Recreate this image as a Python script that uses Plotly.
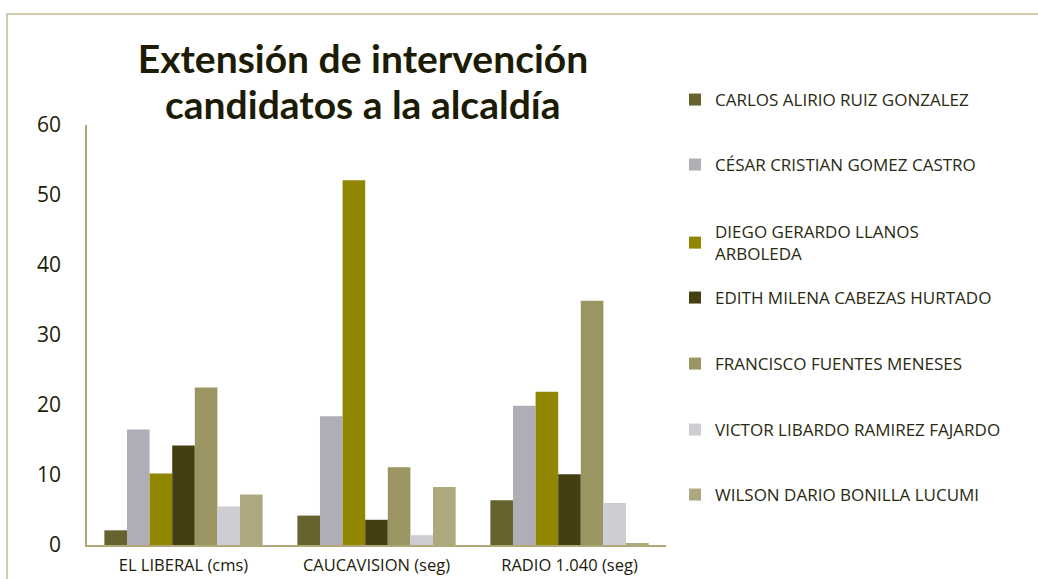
import plotly.graph_objects as go

categories = ["EL LIBERAL (cms)", "CAUCAVISION (seg)", "RADIO 1.040 (seg)"]
candidates = [
    "CARLOS ALIRIO RUIZ GONZALEZ",
    "CÉSAR CRISTIAN GOMEZ CASTRO",
    "DIEGO GERARDO LLANOS<br>ARBOLEDA",
    "EDITH MILENA CABEZAS HURTADO",
    "FRANCISCO FUENTES MENESES",
    "VICTOR LIBARDO RAMIREZ FAJARDO",
    "WILSON DARIO BONILLA LUCUMI",
]
carlos = [2.1, 4.2, 6.4]
cesar = [16.5, 18.4, 19.9]
diego = [10.2, 52.1, 21.9]
edith = [14.2, 3.6, 10.1]
francisco = [22.5, 11.1, 34.9]
victor = [5.5, 1.4, 6.0]
wilson = [7.2, 8.3, 0.25]
series = [carlos, cesar, diego, edith, francisco, victor, wilson]
colors = ["#67632e", "#afaeb6", "#918600", "#433f13", "#9b9563", "#cdcdd4", "#aea87f"]
legend_y_px = [100, 165, 232, 298, 364, 430, 495]
title_lines = ["Extensión de intervención", "candidatos a la alcaldía"]

W, H = 1038, 579
L, R, T, B = 87, 372, 125, 34
pw, ph = W - L - R, H - T - B


def px_x(px):
    return (px - L) / pw


def px_y(py):
    return (H - B - py) / ph


fig = go.Figure()
for i, (name, vals, col) in enumerate(zip(candidates, series, colors)):
    lg = "legend" if i == 0 else f"legend{i+1}"
    fig.add_trace(go.Bar(
        x=categories, y=vals, name=name, marker_color=col,
        marker_line_width=0, legend=lg, showlegend=True,
    ))

leg_font = dict(family="Open Sans", size=17, color="#2a2a12")
layout_legends = {}
for i, py in enumerate(legend_y_px):
    key = "legend" if i == 0 else f"legend{i+1}"
    layout_legends[key] = dict(
        x=px_x(675), y=px_y(py),
        xanchor="left", yanchor="middle",
        font=leg_font, bgcolor="rgba(0,0,0,0)", itemwidth=30,
        tracegroupgap=0, visible=True,
    )
layout_legends["legend3"]["yanchor"] = "top"
layout_legends["legend3"]["y"] = px_y(legend_y_px[2] - 18)

title_font = dict(family="Lato", size=39, color="#1c1c05", weight="bold")

fig.update_layout(
    width=W, height=H,
    margin=dict(l=L, r=R, t=T, b=B, autoexpand=False),
    paper_bgcolor="white", plot_bgcolor="white",
    showlegend=True,
    barmode="group", bargap=0.18, bargroupgap=0,
    title=dict(
        text=title_lines[0],
        x=363 / W, xanchor="center", xref="container",
        y=1 - 59 / H, yanchor="middle", yref="container",
        font=title_font,
    ),
    annotations=[dict(
        text=title_lines[1], xref="paper", yref="paper",
        x=px_x(363), y=px_y(104), xanchor="center", yanchor="middle",
        showarrow=False, font=title_font,
    )],
    xaxis=dict(
        showgrid=False, showline=True, linecolor="#b0a878", linewidth=1.5,
        ticks="", tickfont=dict(family="Open Sans", size=16.5, color="#1c1c08"),
        ticklabelstandoff=4,
    ),
    yaxis=dict(
        range=[0, 60], dtick=10, showgrid=False, zeroline=False,
        showline=True, linecolor="#b0a878", linewidth=1.5,
        ticks="", tickfont=dict(family="Open Sans", size=21, color="#1c1c08"),
        ticklabelstandoff=20,
    ),
    shapes=[dict(
        type="rect", xref="paper", yref="paper",
        x0=px_x(7), x1=px_x(W + 20),
        y0=px_y(H + 20), y1=px_y(14),
        line=dict(color="#c4bc98", width=1.5), fillcolor="rgba(0,0,0,0)",
        layer="below",
    )],
    **layout_legends,
)

fig.write_html(
    "out.html",
    config={"displayModeBar": False},
    post_script="document.body.style.margin='0';",
)
